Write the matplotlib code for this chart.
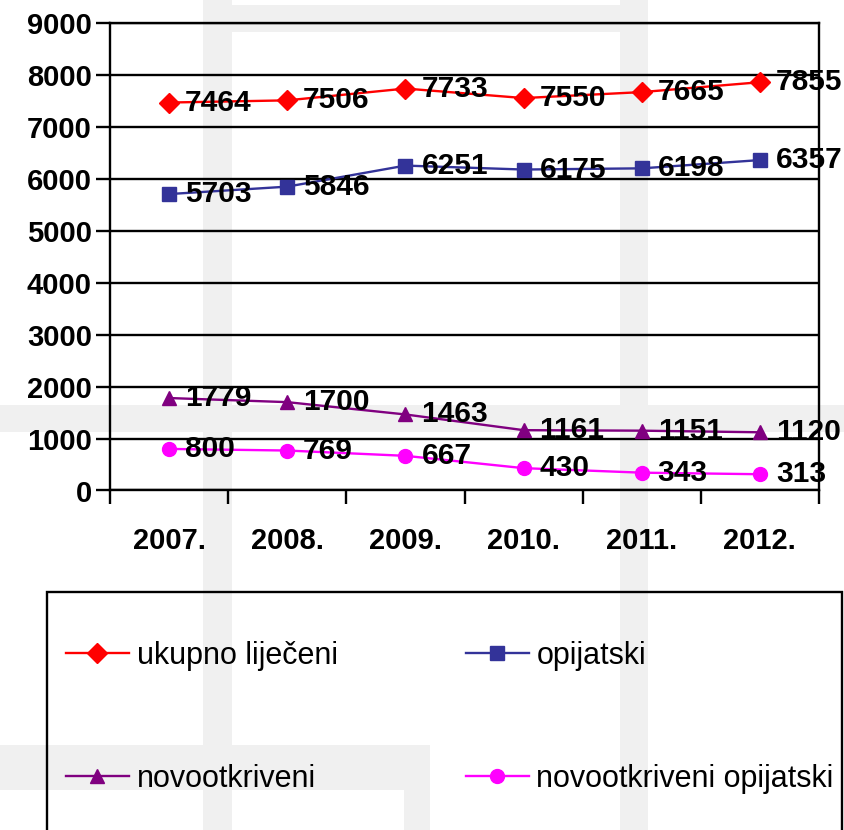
import matplotlib
matplotlib.use('Agg')
import matplotlib.pyplot as plt
from matplotlib.patches import Rectangle
import numpy as np

# data
years = ['2007.', '2008.', '2009.', '2010.', '2011.', '2012.']
ukupno = [7464, 7506, 7733, 7550, 7665, 7855]
opijatski = [5703, 5846, 6251, 6175, 6198, 6357]
novootkriveni = [1779, 1700, 1463, 1161, 1151, 1120]
novi_opijatski = [800, 769, 667, 430, 343, 313]

series = [
    ('ukupno liječeni', ukupno, '#FF0000', 'D', 10),
    ('opijatski', opijatski, '#333399', 's', 9.5),
    ('novootkriveni', novootkriveni, '#800080', '^', 10.5),
    ('novootkriveni opijatski', novi_opijatski, '#FF00FF', 'o', 10),
]

plt.rcParams['font.family'] = ['Liberation Sans', 'DejaVu Sans']

W, H = 844, 830
fig = plt.figure(figsize=(W / 100, H / 100), dpi=100)
fig.patch.set_facecolor('white')


def px_rect(x0, y0, x1, y1, **kw):
    # rectangle in pixel coordinates (top-left origin)
    return Rectangle((x0 / W, 1 - y1 / H), (x1 - x0) / W, (y1 - y0) / H,
                     transform=fig.transFigure, **kw)


# faint watermark in the background
wm = '#f0f0f0'
for r in [(203, 0, 232, 830), (620, 0, 648, 830), (203, 5, 648, 32),
          (0, 405, 844, 432), (0, 745, 430, 790), (404, 745, 430, 830)]:
    fig.patches.append(px_rect(*r, facecolor=wm, edgecolor='none', zorder=-5))

ax = fig.add_axes([110 / W, 1 - 490.5 / H, (819 - 110) / W, (490.5 - 22.7) / H])
ax.set_facecolor('none')
ax.set_zorder(1)

x = np.arange(len(years))
handles = {}
for name, vals, color, marker, ms in series:
    ln, = ax.plot(x, vals, color=color, lw=1.7, marker=marker, markersize=ms,
                  markeredgecolor=color, label=name, zorder=3, clip_on=False)
    handles[name] = ln
    for xi, v in zip(x, vals):
        ax.annotate(str(v), (xi, v), xytext=(11.5, 0), textcoords='offset points',
                    ha='left', va='center', fontsize=21.5, fontweight='bold',
                    zorder=4, annotation_clip=False)

ax.set_xlim(-0.5, len(years) - 0.5)
ax.set_ylim(0, 9000)
ax.set_yticks(np.arange(0, 9001, 1000))
ax.set_yticklabels([str(v) for v in range(0, 9001, 1000)],
                   fontsize=21, fontweight='bold')
ax.set_xticks(x)
ax.set_xticklabels(years, fontsize=21, fontweight='bold')
ax.set_xticks(np.arange(-0.5, len(years), 1), minor=True)
ax.tick_params(axis='x', which='major', length=0, pad=26)
ax.tick_params(axis='x', which='minor', length=10, width=1.7, direction='out')
ax.tick_params(axis='y', length=10, width=1.7, direction='out', pad=3)
ax.grid(axis='y', color='black', lw=1.7, zorder=1)
ax.set_axisbelow(True)
for s in ax.spines.values():
    s.set_color('black')
    s.set_linewidth(1.7)

# legend frame (bottom edge runs off the picture)
fig.patches.append(px_rect(47, 592, 842, 845, facecolor='none',
                           edgecolor='black', lw=1.7, zorder=2))
order = ['ukupno liječeni', 'novootkriveni', 'opijatski', 'novootkriveni opijatski']
fig.legend([handles[n] for n in order], order, ncol=2, frameon=False,
           loc='upper left', bbox_to_anchor=(66 / W, 1 - 641 / H),
           borderpad=0, borderaxespad=0, fontsize=22, handlelength=2.05,
           handletextpad=0.26, columnspacing=4.2, labelspacing=3.05)

fig.savefig('out.png', dpi=100)
